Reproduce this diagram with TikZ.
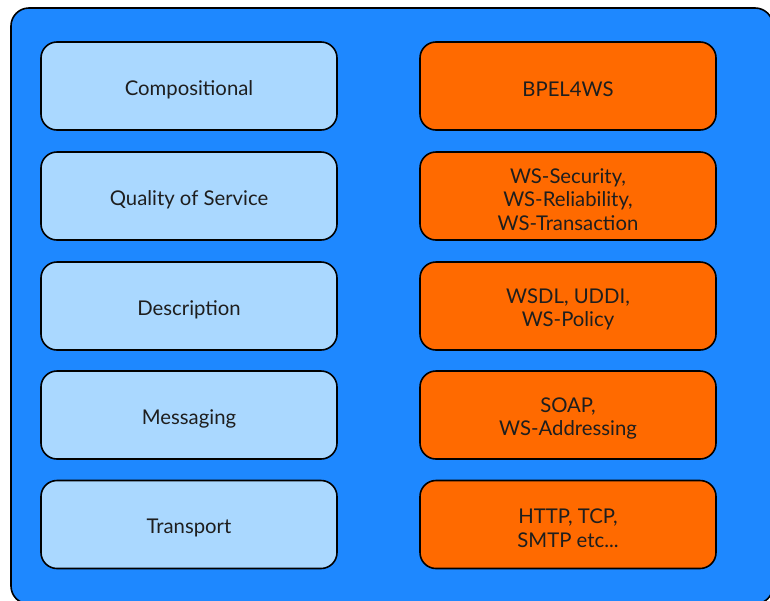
\documentclass[tikz,border=0pt]{standalone}
\usepackage{fontspec}
\setmainfont{Lato}
\definecolor{outerblue}{RGB}{30,136,255}
\definecolor{lightblue}{RGB}{170,216,255}
\definecolor{orangebox}{RGB}{255,106,0}
\definecolor{txt}{RGB}{30,30,30}
\begin{document}
\begin{tikzpicture}[x=1pt,y=-1pt,
  layerbox/.style={draw=black, line width=1.6pt, rounded corners=16pt, minimum width=296pt, minimum height=88pt, align=center, font=\fontsize{20.3}{23.5}\selectfont, text=txt, inner sep=0pt},
  leftbox/.style={layerbox, fill=lightblue},
  rightbox/.style={layerbox, fill=orangebox},
  lbl/.style={align=center, font=\fontsize{20.3}{23.5}\selectfont, text=txt, inner sep=0pt}]
\useasboundingbox (0,0) rectangle (770,600);
\fill[white] (0,0) rectangle (770,600);
\node[draw=black, line width=1.6pt, fill=outerblue, rounded corners=18pt, minimum width=762pt, minimum height=596pt, inner sep=0pt] (outer) at (392,306) {};
\node[leftbox] (comp) at (189,86) {};
\node[leftbox] (qos) at (189,196) {};
\node[leftbox] (desc) at (189,306) {};
\node[leftbox] (msg) at (189,415) {};
\node[leftbox] (trans) at (189,524.5) {};
\node[rightbox] (bpel) at (568,86) {};
\node[rightbox] (wss) at (568,196) {};
\node[rightbox] (wsdl) at (568,306) {};
\node[rightbox] (soap) at (568,415) {};
\node[rightbox] (http) at (568,524.5) {};
\node[lbl] (tcomp) at ([yshift=-3.5pt]comp.center) {Compositional};
\node[lbl] (tqos) at ([yshift=-3.5pt]qos.center) {Quality of Service};
\node[lbl] (tdesc) at ([yshift=-3.5pt]desc.center) {Description};
\node[lbl] (tmsg) at ([yshift=-3.5pt]msg.center) {Messaging};
\node[lbl] (ttrans) at ([yshift=-3.5pt]trans.center) {Transport};
\node[lbl] (tbpel) at ([yshift=-3.5pt]bpel.center) {BPEL4WS};
\node[lbl] (twss) at ([yshift=-3.5pt]wss.center) {WS-Security,\\WS-Reliability,\\WS-Transaction};
\node[lbl] (twsdl) at ([yshift=-3.5pt]wsdl.center) {WSDL, UDDI,\\WS-Policy};
\node[lbl] (tsoap) at ([yshift=-3.5pt]soap.center) {SOAP,\\WS-Addressing};
\node[lbl] (thttp) at ([yshift=-3.5pt]http.center) {HTTP, TCP,\\SMTP etc...};
\end{tikzpicture}
\end{document}
